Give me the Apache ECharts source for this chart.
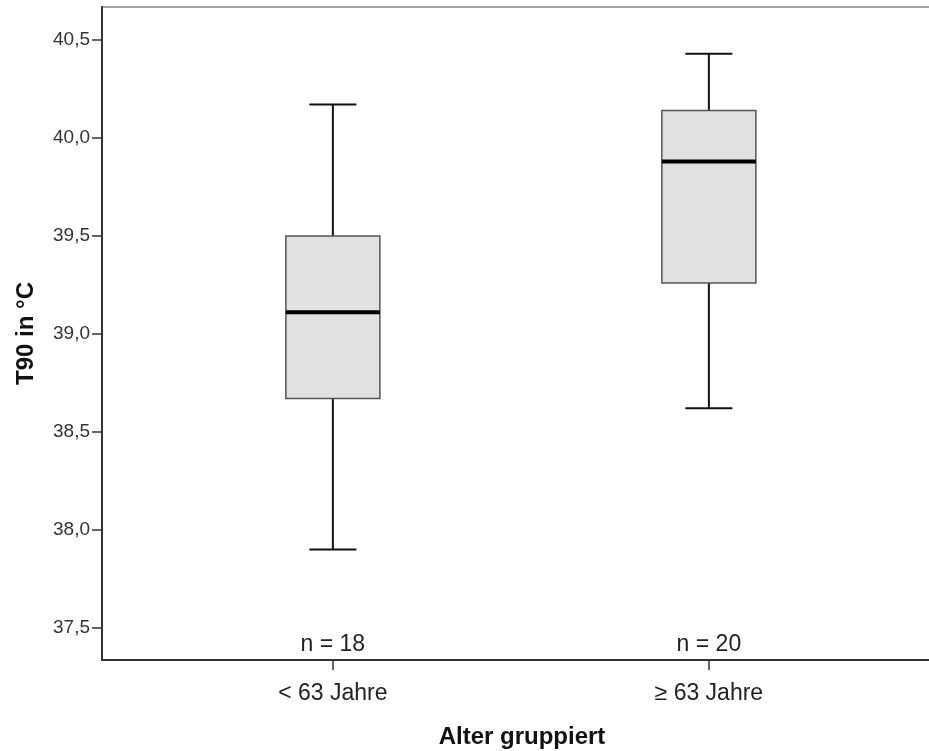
<!DOCTYPE html>
<html>
<head>
<meta charset="utf-8">
<script src="https://cdn.jsdelivr.net/npm/echarts@6/dist/echarts.min.js"></script>
<style>
  html, body { margin: 0; padding: 0; background: #fff; }
  #chart { width: 929px; height: 751px; }
</style>
</head>
<body>
<div id="chart"></div>
<script>
// Age groups and T90 box plot statistics
const categories = ['< 63 Jahre', '\u2265 63 Jahre'];
const counts = [18, 20];
const whiskerLow = [37.90, 38.62];
const quartile1 = [38.67, 39.26];
const medians = [39.11, 39.88];
const quartile3 = [39.50, 40.14];
const whiskerHigh = [40.17, 40.43];
const yTicks = [37.5, 38.0, 38.5, 39.0, 39.5, 40.0, 40.5];

// Group positions on the x scale: 1, 2, ...
const boxData = categories.map((c, i) => [
  i + 1, whiskerLow[i], quartile1[i], medians[i], quartile3[i], whiskerHigh[i], counts[i]
]);

const FONT = 'Liberation Sans, Arial, sans-serif';

function renderBox(params, api) {
  const x = api.value(0);
  const lo = api.coord([x, api.value(1)]);
  const q1 = api.coord([x, api.value(2)]);
  const md = api.coord([x, api.value(3)]);
  const q3 = api.coord([x, api.value(4)]);
  const hi = api.coord([x, api.value(5)]);
  const boxW = api.size([0.25, 0])[0];
  const capW = boxW / 2;
  const cx = lo[0];
  const cs = params.coordSys;
  const bottom = cs.y + cs.height;
  const whisker = { stroke: '#111', lineWidth: 2 };
  return {
    type: 'group',
    children: [
      { type: 'line', shape: { x1: cx, y1: hi[1], x2: cx, y2: q3[1] }, style: whisker },
      { type: 'line', shape: { x1: cx, y1: q1[1], x2: cx, y2: lo[1] }, style: whisker },
      { type: 'line', shape: { x1: cx - capW / 2, y1: hi[1], x2: cx + capW / 2, y2: hi[1] }, style: whisker },
      { type: 'line', shape: { x1: cx - capW / 2, y1: lo[1], x2: cx + capW / 2, y2: lo[1] }, style: whisker },
      { type: 'rect', shape: { x: cx - boxW / 2, y: q3[1], width: boxW, height: q1[1] - q3[1] },
        style: { fill: '#e1e1e1', stroke: '#555', lineWidth: 1.5 } },
      { type: 'line', shape: { x1: cx - boxW / 2, y1: md[1], x2: cx + boxW / 2, y2: md[1] },
        style: { stroke: '#000', lineWidth: 4 } },
      { type: 'text', x: cx, y: bottom - 4,
        style: { text: 'n = ' + api.value(6), fill: '#222', font: '23px ' + FONT,
                 align: 'center', verticalAlign: 'bottom' } }
    ]
  };
}

const chart = echarts.init(document.getElementById('chart'), null, { renderer: 'canvas' });
chart.setOption({
  animation: false,
  backgroundColor: '#fff',
  grid: {
    left: 102, top: 7, width: 840, bottom: 91,
    outerBoundsMode: 'none',
    containLabel: false,
    show: true, borderColor: '#888', borderWidth: 1.5, backgroundColor: 'transparent'
  },
  xAxis: {
    type: 'value',
    min: 0.386,
    max: 2.62,
    name: 'Alter gruppiert',
    nameLocation: 'middle',
    nameGap: 65,
    nameTextStyle: { fontFamily: FONT, fontSize: 24, fontWeight: 'bold', color: '#111' },
    axisLine: { show: true, lineStyle: { color: '#333', width: 2 } },
    axisTick: { show: true, length: 10, customValues: categories.map((c, i) => i + 1),
                lineStyle: { color: '#333', width: 1.5 } },
    axisLabel: {
      customValues: categories.map((c, i) => i + 1),
      formatter: v => categories[Math.round(v) - 1] || '',
      fontFamily: FONT, fontSize: 23, color: '#222', margin: 22
    },
    splitLine: { show: false }
  },
  yAxis: {
    type: 'value',
    min: 37.336,
    max: 40.668,
    name: 'T90 in \u00b0C',
    nameLocation: 'middle',
    nameRotate: 90,
    nameGap: 64,
    nameTextStyle: { fontFamily: FONT, fontSize: 24, fontWeight: 'bold', color: '#111' },
    axisLine: { show: true, lineStyle: { color: '#333', width: 2 } },
    axisTick: { show: true, length: 10, customValues: yTicks, lineStyle: { color: '#333', width: 1.5 } },
    axisLabel: {
      customValues: yTicks,
      formatter: v => v.toFixed(1).replace('.', ','),
      fontFamily: FONT, fontSize: 19, color: '#333', margin: 12
    },
    splitLine: { show: false }
  },
  series: [{
    type: 'custom',
    renderItem: renderBox,
    encode: { x: 0, y: [1, 2, 3, 4, 5] },
    data: boxData,
    clip: false
  }]
});
</script>
</body>
</html>
